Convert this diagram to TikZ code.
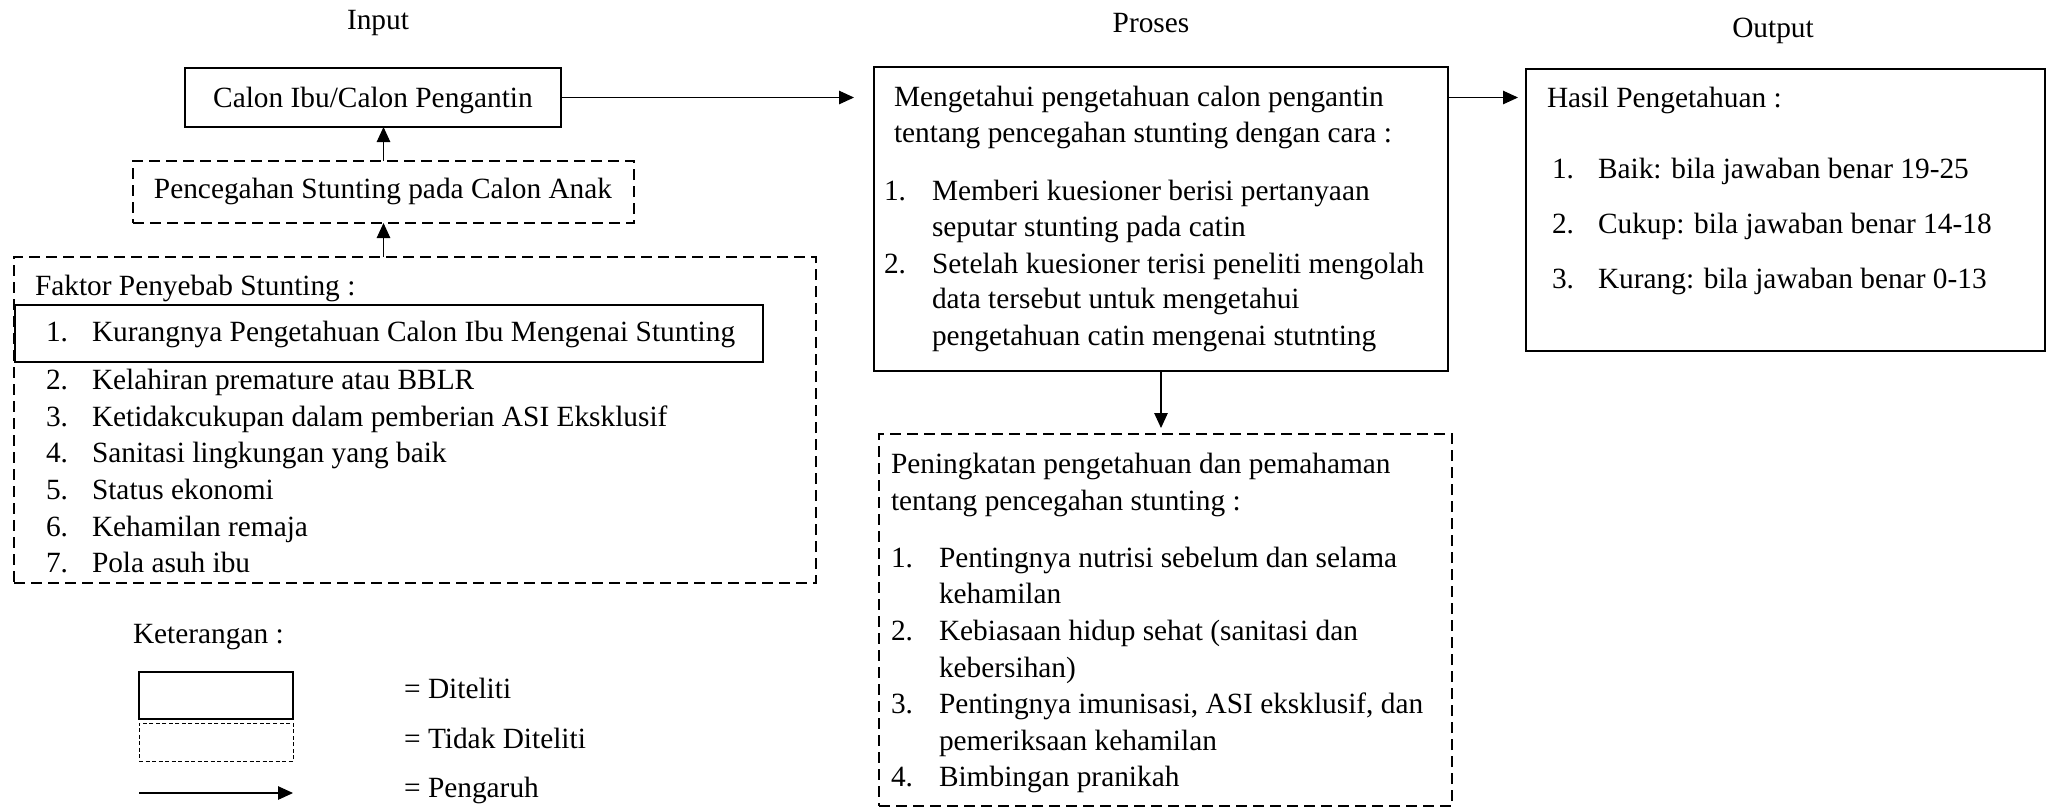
\documentclass[tikz,border=0pt]{standalone}
\usepackage{fontspec}
\setmainfont{Liberation Serif}
\usetikzlibrary{arrows.meta,fit}
\begin{document}
\begin{tikzpicture}[x=0.4pt,y=-0.4pt,
  every node/.style={inner sep=0pt, outer sep=0pt},
  txt/.style={anchor=base west, font=\fontsize{11.74}{14}\selectfont},
  ctxt/.style={anchor=base, font=\fontsize{11.74}{14}\selectfont},
  solidbox/.style={draw, line width=0.85pt},
  thinbox/.style={draw, line width=0.5pt},
  dashbox/.style={draw, line width=0.85pt, dash pattern=on 4.4pt off 2.4pt},
  thindash/.style={draw, line width=0.4pt, dash pattern=on 1.6pt off 1pt},
  conn/.style={-{Triangle[length=6pt,width=5.4pt]}, line width=0.45pt},
]
\useasboundingbox (0,0) rectangle (2053,809);

% headings
\node[ctxt] (hin) at (378,29) {Input};
\node[ctxt] (hpr) at (1151,32) {Proses};
\node[ctxt] (hout) at (1773,37) {Output};

% boxes
\node[solidbox, fit={(185,68) (561,127)}] (calon) {};
\node[dashbox, fit={(133,161) (634,223)}] (pencegahan) {};
\node[dashbox, fit={(14,257) (816,583)}] (faktor) {};
\node[thinbox, fit={(15,305) (763,362)}] (item1box) {};
\node[solidbox, fit={(874,67) (1448,371)}] (proses) {};
\node[solidbox, fit={(1526,69) (2045,351)}] (output) {};
\node[dashbox, fit={(879,434) (1452,806)}] (peningkatan) {};

% input texts
\node[ctxt] (tcalon) at (373,107) {Calon Ibu/Calon Pengantin};
\node[ctxt] (tpenc) at (383,198) {Pencegahan Stunting pada Calon Anak};
\node[txt] (tfak) at (35,295) {Faktor Penyebab Stunting :};
\node[txt] (fn1) at (46,341.7) {1.};
\node[txt] (ft1) at (92,341.7) {Kurangnya Pengetahuan Calon Ibu Mengenai Stunting};
\node[txt] (fn2) at (46,389) {2.};
\node[txt] (ft2) at (92,389) {Kelahiran premature atau BBLR};
\node[txt] (fn3) at (46,426) {3.};
\node[txt] (ft3) at (92,426) {Ketidakcukupan dalam pemberian ASI Eksklusif};
\node[txt] (fn4) at (46,462.7) {4.};
\node[txt] (ft4) at (92,462.7) {Sanitasi lingkungan yang baik};
\node[txt] (fn5) at (46,499.4) {5.};
\node[txt] (ft5) at (92,499.4) {Status ekonomi};
\node[txt] (fn6) at (46,536) {6.};
\node[txt] (ft6) at (92,536) {Kehamilan remaja};
\node[txt] (fn7) at (46,572) {7.};
\node[txt] (ft7) at (92,572) {Pola asuh ibu};

% proses texts
\node[txt] (p0a) at (894,106) {Mengetahui pengetahuan calon pengantin};
\node[txt] (p0b) at (894,142) {tentang pencegahan stunting dengan cara :};
\node[txt] (pn1) at (884,200) {1.};
\node[txt] (pt1a) at (932,200) {Memberi kuesioner berisi pertanyaan};
\node[txt] (pt1b) at (932,236) {seputar stunting pada catin};
\node[txt] (pn2) at (884,273) {2.};
\node[txt] (pt2a) at (932,273) {Setelah kuesioner terisi peneliti mengolah};
\node[txt] (pt2b) at (932,308) {data tersebut untuk mengetahui};
\node[txt] (pt2c) at (932,345) {pengetahuan catin mengenai stutnting};

% output texts
\node[txt] (o0) at (1547,107) {Hasil Pengetahuan :};
\node[txt] (on1) at (1552,178) {1.};
\node[txt] (ot1) at (1598,178) {Baik: bila jawaban benar 19-25};
\node[txt] (on2) at (1552,233) {2.};
\node[txt] (ot2) at (1598,233) {Cukup: bila jawaban benar 14-18};
\node[txt] (on3) at (1552,288) {3.};
\node[txt] (ot3) at (1598,288) {Kurang: bila jawaban benar 0-13};

% peningkatan texts
\node[txt] (k0a) at (891,473) {Peningkatan pengetahuan dan pemahaman};
\node[txt] (k0b) at (891,510) {tentang pencegahan stunting :};
\node[txt] (kn1) at (891,567) {1.};
\node[txt] (kt1a) at (939,567) {Pentingnya nutrisi sebelum dan selama};
\node[txt] (kt1b) at (939,603) {kehamilan};
\node[txt] (kn2) at (891,640) {2.};
\node[txt] (kt2a) at (939,640) {Kebiasaan hidup sehat (sanitasi dan};
\node[txt] (kt2b) at (939,677) {kebersihan)};
\node[txt] (kn3) at (891,713) {3.};
\node[txt] (kt3a) at (939,713) {Pentingnya imunisasi, ASI eksklusif, dan};
\node[txt] (kt3b) at (939,750) {pemeriksaan kehamilan};
\node[txt] (kn4) at (891,786) {4.};
\node[txt] (kt4) at (939,786) {Bimbingan pranikah};

% legend
\node[txt] (ket) at (133,643) {Keterangan :};
\node[thinbox, fit={(139,672) (293,719)}] (legsolid) {};
\node[thindash, fit={(139,723) (293,761)}] (legdash) {};
\coordinate (la) at (139,793);
\coordinate (lb) at (293,793);
\node[txt] (eq1) at (404,698) {=};
\node[txt] (lt1) at (428,698) {Diteliti};
\node[txt] (eq2) at (404,748) {=};
\node[txt] (lt2) at (428,748) {Tidak Diteliti};
\node[txt] (eq3) at (404,797) {=};
\node[txt] (lt3) at (428,797) {Pengaruh};

% connectors
\draw[conn, shorten >=8pt] (calon.east) -- (calon.east -| proses.west);
\draw[conn, shorten >=3.2pt] (proses.east |- calon.east) -- (output.west |- calon.east);
\draw[conn] (pencegahan.north) -- (pencegahan.north |- calon.south);
\draw[conn] (pencegahan.south |- faktor.north) -- (pencegahan.south);
\draw[conn, shorten >=2.4pt] (proses.south) -- (proses.south |- peningkatan.north);
\draw[conn] (la) -- (lb);
\end{tikzpicture}
\end{document}
